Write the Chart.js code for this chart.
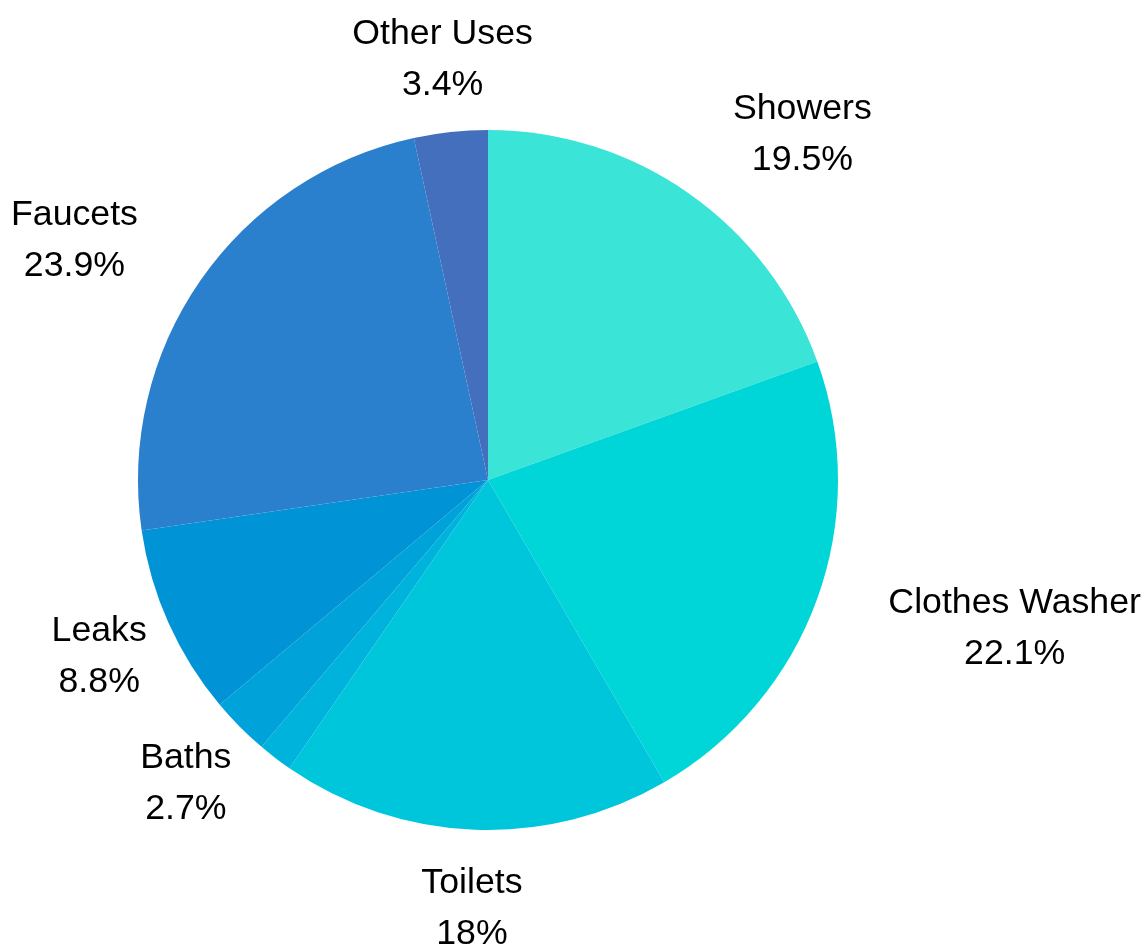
<!DOCTYPE html>
<html lang="en">
<head>
  <meta charset="UTF-8">
  <title>Residential Water Use</title>
  <script src="https://cdn.jsdelivr.net/npm/chart.js"></script>
  <style>
    html, body {
      margin: 0;
      padding: 0;
      background-color: #FFFFFF;
    }

    #wrap {
      width: 1145px;
      height: 944px;
      position: relative;
    }
  </style>
</head>
<body>

<div id="wrap">
  <canvas id="usoAgua"></canvas>
</div>

<script>
  // indoor water use by fixture (%)
  const usos = ['Showers', 'Clothes Washer', 'Toilets', 'Dishwasher', 'Baths', 'Leaks', 'Faucets', 'Other Uses'];
  const porcentajes = [19.5, 22.1, 18, 1.6, 2.7, 8.8, 23.9, 3.4];

  const colores = ['#3AE4D6', '#00D5D8', '#00C6DC', '#00B3DD', '#00A2DA', '#0094D6', '#2A80CC', '#436FBD'];

  const FUENTE = '35.7px "Liberation Sans", Arial, sans-serif';
  const ALTO_LINEA = 51;
  const SEPARACION = 76;   // distance from the pie edge to the label anchor
  const BAJADA = 3;        // small downward nudge of the text block
  const MINIMO = 2;        // slices smaller than this get no label

  // labels outside the pie: name on top, value below
  const etiquetasFuera = {
    id: 'etiquetasFuera',
    afterDatasetsDraw(chart) {
      const ctx = chart.ctx;
      const meta = chart.getDatasetMeta(0);
      const datos = chart.data.datasets[0].data;

      ctx.save();
      ctx.font = FUENTE;
      ctx.fillStyle = '#000000';
      ctx.textAlign = 'center';
      ctx.textBaseline = 'middle';

      meta.data.forEach((arco, i) => {
        if (datos[i] < MINIMO) return;

        const p = arco.getProps(['x', 'y', 'startAngle', 'endAngle', 'outerRadius'], true);
        const medio = (p.startAngle + p.endAngle) / 2;
        const r = p.outerRadius + SEPARACION;
        const ax = p.x + Math.cos(medio) * r;
        const ay = p.y + Math.sin(medio) * r;

        const lineas = [chart.data.labels[i], datos[i] + '%'];
        const ancho = Math.max(...lineas.map(t => ctx.measureText(t).width));
        const alto = lineas.length * ALTO_LINEA;

        // centered on the anchor unless the box would run into the pie
        let cx = ax;
        const esquinas = [[-1, -1], [1, -1], [-1, 1], [1, 1]].map(([sx, sy]) =>
          Math.hypot(cx + sx * ancho / 2 - p.x, ay + sy * alto / 2 - p.y));
        if (Math.min(...esquinas) < p.outerRadius + 2) {
          cx = Math.cos(medio) >= 0 ? ax + ancho / 2 : ax - ancho / 2;
        }

        lineas.forEach((t, j) => {
          ctx.fillText(t, cx, ay + BAJADA + (j - (lineas.length - 1) / 2) * ALTO_LINEA);
        });
      });

      ctx.restore();
    }
  };

  const ctx = document.getElementById('usoAgua').getContext('2d');
  const grafico = new Chart(ctx, {
    type: 'pie',
    data: {
      labels: usos,
      datasets: [{
        data: porcentajes,
        backgroundColor: colores,
        borderWidth: 0
      }]
    },
    options: {
      responsive: true,
      maintainAspectRatio: false,
      animation: false,
      layout: {
        padding: { left: 138, right: 307, top: 130, bottom: 114 }
      },
      plugins: {
        legend: { display: false },
        tooltip: { enabled: false }
      }
    },
    plugins: [etiquetasFuera]
  });
</script>

</body>
</html>
